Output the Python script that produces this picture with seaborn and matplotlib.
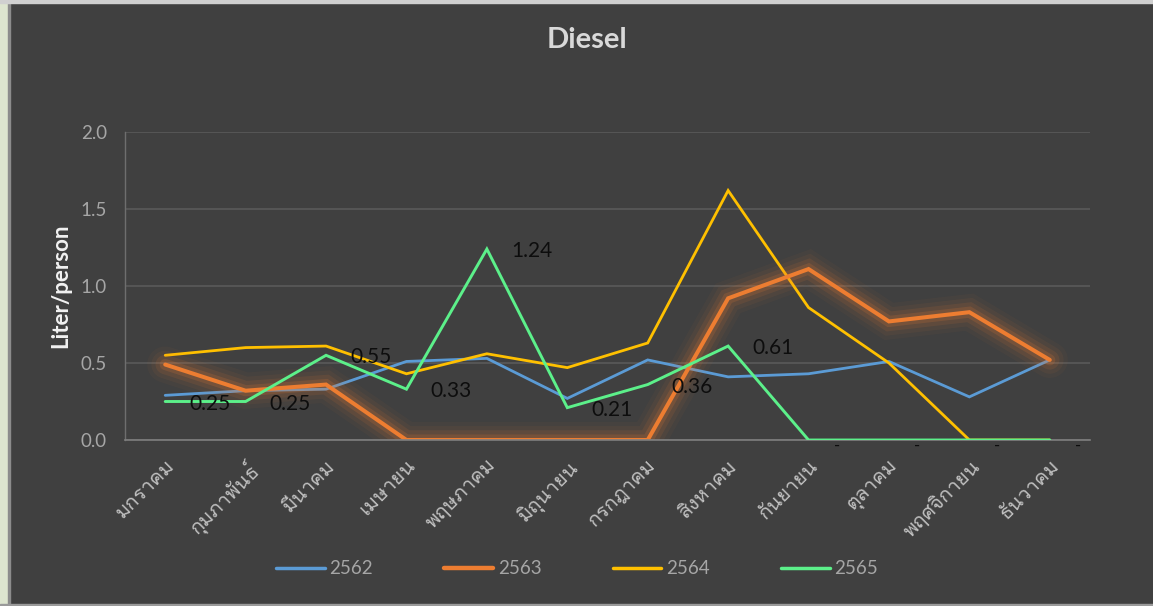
import numpy as np
import pandas as pd
import seaborn as sns
import matplotlib
matplotlib.use("Agg")
import matplotlib.pyplot as plt
import matplotlib.patheffects as pe
from matplotlib import font_manager
from matplotlib.ft2font import FT2Font
from matplotlib.patches import Rectangle
from matplotlib.transforms import offset_copy, ScaledTranslation

# Data
months = ["มกราคม", "กุมภาพันธ์", "มีนาคม", "เมษายน", "พฤษภาคม", "มิถุนายน",
          "กรกฎาคม", "สิงหาคม", "กันยายน", "ตุลาคม", "พฤศจิกายน", "ธันวาคม"]
years = ["2562", "2563", "2564", "2565"]
y2562 = [0.29, 0.32, 0.33, 0.51, 0.53, 0.27, 0.52, 0.41, 0.43, 0.51, 0.28, 0.52]
y2563 = [0.49, 0.32, 0.36, 0.0, 0.0, 0.0, 0.0, 0.92, 1.11, 0.77, 0.83, 0.52]
y2564 = [0.55, 0.60, 0.61, 0.43, 0.56, 0.47, 0.63, 1.62, 0.86, 0.50, 0.0, 0.0]
y2565 = [0.25, 0.25, 0.55, 0.33, 1.24, 0.21, 0.36, 0.61, 0.0, 0.0, 0.0, 0.0]
yticks = [0.0, 0.5, 1.0, 1.5, 2.0]

colors = {"2562": "#5b9bd5", "2563": "#ed7d31", "2564": "#ffc000", "2565": "#5cf08a"}
bg = "#404040"


# find an installed font that has Thai glyphs
def thai_font():
    for f in font_manager.fontManager.ttflist:
        try:
            if FT2Font(f.fname).get_char_index(ord("ก")):
                return f.name
        except Exception:
            pass
    return None


tf = thai_font()
fams = ["Lato"] + ([tf] if tf else []) + ["DejaVu Sans"]

sns.set_theme(style="dark")
plt.rcParams["font.family"] = fams

df = pd.DataFrame({
    "x": list(range(12)) * 4,
    "value": y2562 + y2563 + y2564 + y2565,
    "year": [y for y in years for _ in range(12)],
})

fig = plt.figure(figsize=(11.53, 6.06), dpi=100, facecolor=bg)
ax = fig.add_axes([125 / 1153, 1 - 440 / 606, 965 / 1153, 308 / 606])
ax.set_facecolor(bg)

sns.lineplot(data=df, x="x", y="value", hue="year", palette=colors,
             sort=False, linewidth=2.0, legend=False, ax=ax)

for line, yr in zip(ax.get_lines(), years):
    line.set_solid_joinstyle("miter")
    if yr == "2563":
        line.set_linewidth(2.9)
        line.set_zorder(2.5)
        # soft glow around the 2563 line
        line.set_path_effects([
            pe.Stroke(linewidth=26, foreground="#ed7d31", alpha=0.04),
            pe.Stroke(linewidth=20, foreground="#ed7d31", alpha=0.06),
            pe.Stroke(linewidth=14, foreground="#ed7d31", alpha=0.10),
            pe.Stroke(linewidth=8, foreground="#ed7d31", alpha=0.17),
            pe.Normal(),
        ])
    elif yr == "2565":
        line.set_linewidth(2.1)
        line.set_zorder(3)

# data labels for 2565
lbl_tr = offset_copy(ax.transData, fig=fig, x=24, y=-2, units="dots")
dash_tr = offset_copy(ax.transData, fig=fig, x=25, y=-6, units="dots")
for i, v in enumerate(y2565):
    if v > 0:
        ax.text(i, v, f"{v:.2f}", transform=lbl_tr, ha="left", va="center",
                fontsize=15, color="#0d0d0d", family=fams, zorder=5)
    else:
        ax.text(i, v, "-", transform=dash_tr, ha="left", va="center",
                fontsize=12, color="#0d0d0d", family=fams, zorder=5)

ax.set_xlim(-0.5, 11.5)
ax.set_ylim(0, 2.0)
ax.set_yticks(yticks)
ax.set_yticklabels([f"{t:.1f}" for t in yticks], color="#a6a6a6", fontsize=13.5)
ax.set_xticks(range(12))
ax.set_xticklabels(months, rotation=45, ha="right", va="top",
                   rotation_mode="anchor", color="#bfbfbf", fontsize=14.5)
shift = ScaledTranslation(2 / 100, 0, fig.dpi_scale_trans)
for lab in ax.get_xticklabels():
    lab.set_transform(lab.get_transform() + shift)
ax.tick_params(axis="x", length=0, pad=12)
ax.tick_params(axis="y", length=0, pad=13)
ax.grid(axis="y", color="#5a5a5a", linewidth=1.2)
ax.grid(axis="x", visible=False)
for s in ["top", "right"]:
    ax.spines[s].set_visible(False)
ax.spines["left"].set_color("#6e6e6e")
ax.spines["bottom"].set_color("#7f7f7f")
ax.spines["left"].set_linewidth(1.0)
ax.spines["bottom"].set_linewidth(1.2)
ax.set_xlabel("")
ax.set_ylabel("Liter/person", color="#f2f2f2", fontsize=16,
              fontweight="bold", labelpad=7)

fig.text(587 / 1153, 1 - 40 / 606, "Diesel", ha="center", va="center",
         color="#d9d9d9", fontsize=21, fontweight="bold")

handles = [plt.Line2D([], [], color=colors[y], linewidth=3.2 if y == "2563" else 2.5,
                      solid_capstyle="round") for y in years]
leg = fig.legend(handles, years, loc="center", bbox_to_anchor=(577 / 1153, 1 - 569 / 606),
                 ncol=4, frameon=False, fontsize=13.5, handlelength=2.6,
                 handletextpad=0.25, columnspacing=3.8)
for t in leg.get_texts():
    t.set_color("#a6a6a6")

# outer frame strips like the original screenshot
fig.patches.append(Rectangle((0, 0), 8 / 1153, 1, transform=fig.transFigure,
                             color="#dde5cf", zorder=0))
fig.patches.append(Rectangle((8 / 1153, 0), 2 / 1153, 1, transform=fig.transFigure,
                             color="#8c8c8c", zorder=0))
fig.patches.append(Rectangle((0, 1 - 3 / 606), 1, 3 / 606, transform=fig.transFigure,
                             color="#d0d0d0", zorder=0))
fig.patches.append(Rectangle((0, 0), 1, 2 / 606, transform=fig.transFigure,
                             color="#9a9a9a", zorder=0))

fig.savefig("out.png", dpi=100, facecolor=bg)
